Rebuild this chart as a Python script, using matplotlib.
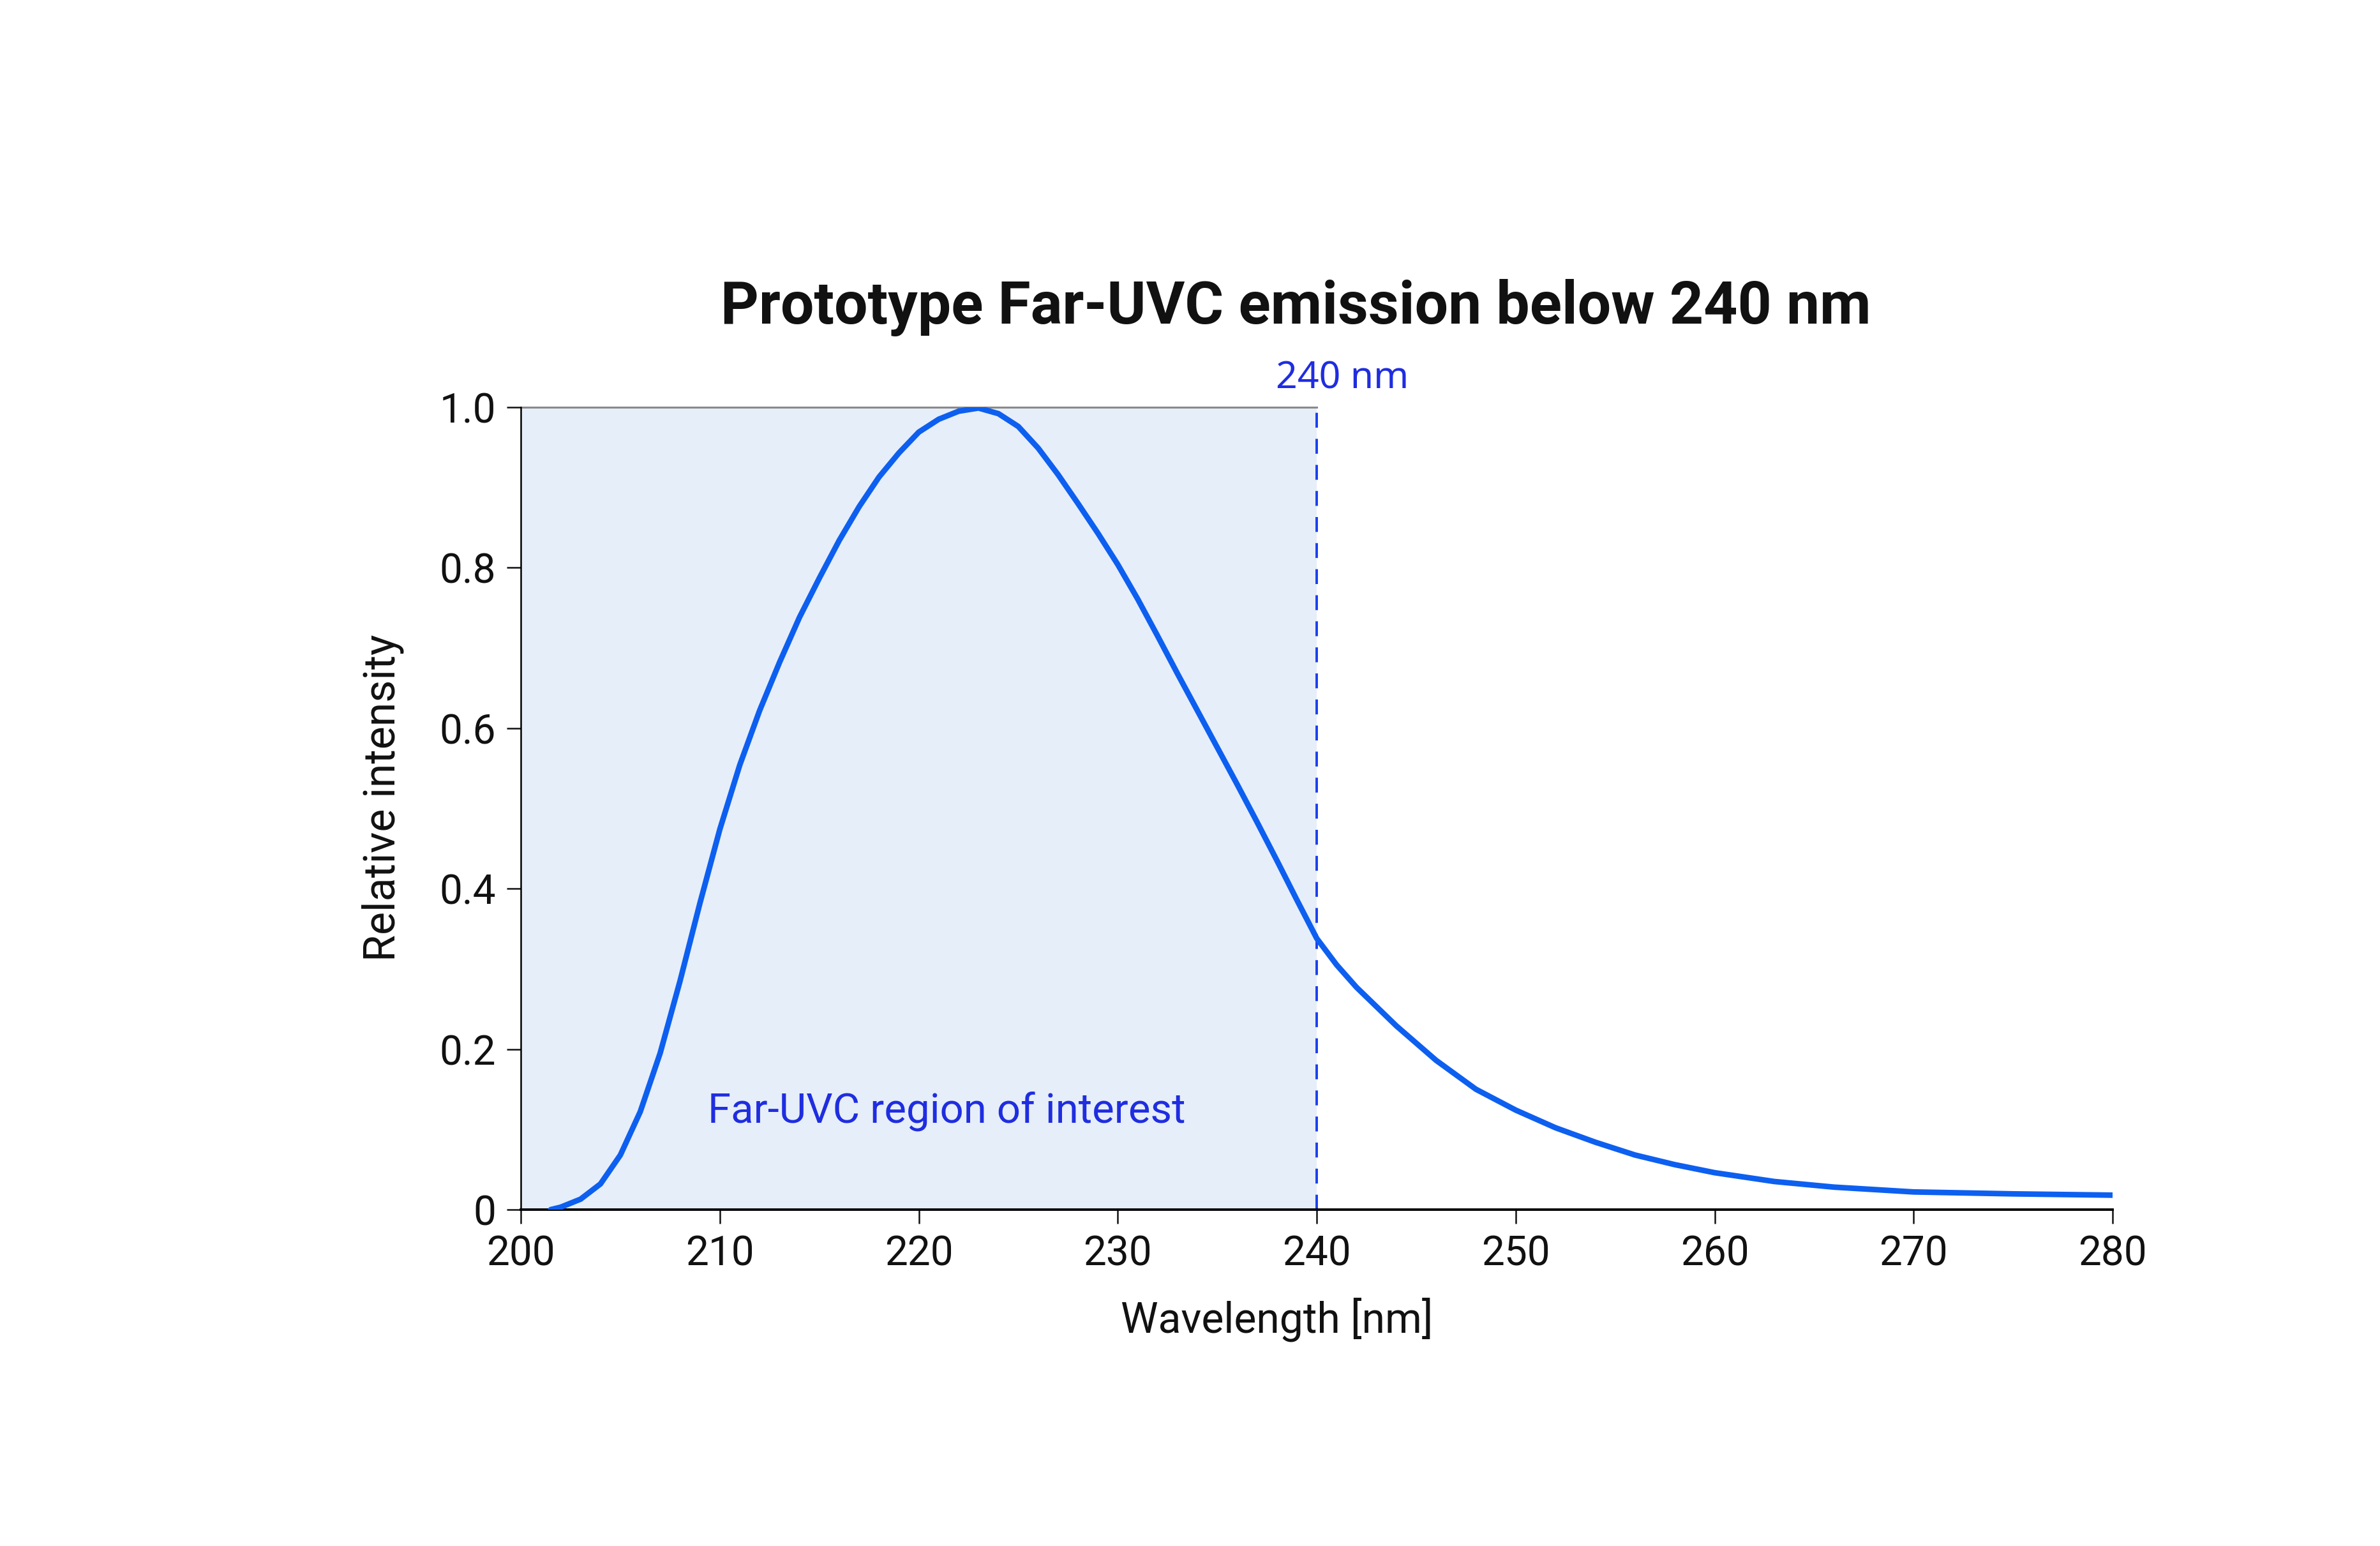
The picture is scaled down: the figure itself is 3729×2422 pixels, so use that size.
import matplotlib
matplotlib.use("Agg")
import matplotlib.pyplot as plt

wavelength = [201.5, 202, 203, 204, 205, 206, 207, 208, 209, 210, 211, 212, 213, 214, 215,
              216, 217, 218, 219, 220, 221, 222, 223, 224, 225, 226, 227, 228, 229, 230,
              231, 232, 233, 234, 235, 236, 237, 238, 239, 240, 241, 242, 244, 246, 248, 250,
              252, 254, 256, 258, 260, 263, 266, 270, 275, 280]
intensity = [0.0, 0.003, 0.013, 0.032, 0.068, 0.122, 0.195, 0.285, 0.382, 0.474, 0.554, 0.622,
             0.682, 0.738, 0.787, 0.834, 0.876, 0.913, 0.943, 0.969, 0.985, 0.995, 0.999,
             0.992, 0.976, 0.949, 0.916, 0.880, 0.843, 0.804, 0.761, 0.715, 0.668, 0.622,
             0.576, 0.530, 0.483, 0.435, 0.386, 0.338, 0.305, 0.277, 0.229, 0.186, 0.150,
             0.124, 0.102, 0.084, 0.068, 0.056, 0.046, 0.035, 0.028, 0.022, 0.0196, 0.018]
x_ticks = [200, 210, 220, 230, 240, 250, 260, 270, 280]
y_ticks = [0, 0.2, 0.4, 0.6, 0.8, 1.0]
y_ticklabels = ["0", "0.2", "0.4", "0.6", "0.8", "1.0"]
cutoff = 240

plt.rcParams['font.family'] = ['Roboto', 'DejaVu Sans']

fig = plt.figure(figsize=(37.3, 24.22), dpi=100)
ax = fig.add_axes([0.2188, 0.2176, 0.6686, 0.519])

ax.axvspan(200, cutoff, ymin=0, ymax=1, color='#e6eef9', zorder=0, lw=0)
ax.plot([200, cutoff], [1.0, 1.0], color='#8a8a8a', lw=2.2, zorder=1, clip_on=False)
ax.plot([cutoff, cutoff], [0, 1.0], color='#1a3ff0', lw=2.8, ls=(0, (6, 4.5)), zorder=2)
ax.plot(wavelength, intensity, color='#0d5ff0', lw=6.3, zorder=3,
        solid_capstyle='round', solid_joinstyle='round')

ax.set_xlim(200, 280)
ax.set_ylim(0, 1.0)
ax.set_xticks(x_ticks)
ax.set_xticklabels([str(t) for t in x_ticks])
ax.set_yticks(y_ticks)
ax.set_yticklabels(y_ticklabels)

for s in ['top', 'right']:
    ax.spines[s].set_visible(False)
ax.spines['left'].set_linewidth(1.8)
ax.spines['bottom'].set_linewidth(2.8)
ax.tick_params(axis='both', labelsize=46, length=16, width=1.8, pad=12, colors='#111111')

ax.set_xlabel("Wavelength [nm]", fontsize=47.5, labelpad=27, color='#111111')
ax.xaxis.label.set_x(0.475)
ax.set_ylabel("Relative intensity", fontsize=49, labelpad=40, color='#111111')
ax.yaxis.label.set_y(0.513)

ax.text(241.3, 1.036, "240 nm", color='#1f2de0', fontsize=42.5, ha='center', va='center',
        family=['Noto Sans', 'DejaVu Sans'])
ax.text(209.4, 0.123, "Far-UVC region of interest", color='#1f2de0', fontsize=47,
        ha='left', va='center')

fig.text(0.5443, 0.801, "Prototype Far-UVC emission below 240 nm", fontsize=67,
         fontweight='bold', ha='center', va='center', color='#111111',
         family=['Roboto', 'DejaVu Sans'])

fig.savefig("out.png", dpi=100, facecolor='white')
